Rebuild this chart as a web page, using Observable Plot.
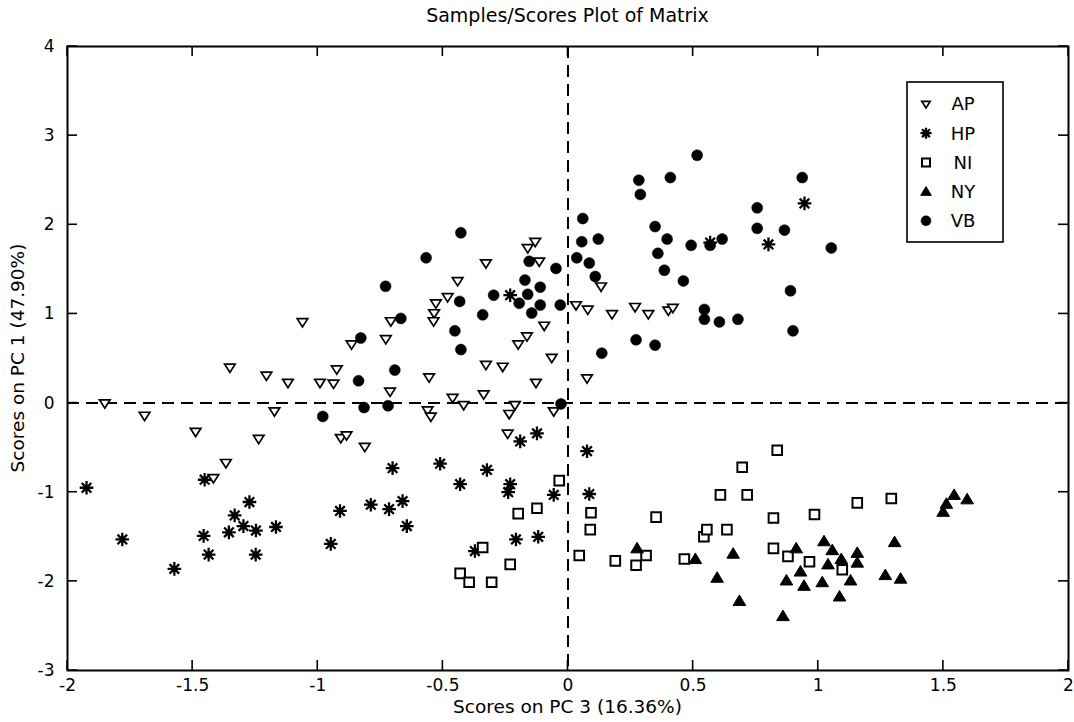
<!DOCTYPE html>
<html><head><meta charset="utf-8">
<script src="https://cdn.jsdelivr.net/npm/d3@7"></script>
<script src="https://cdn.jsdelivr.net/npm/@observablehq/plot@0.6"></script>
<style>
body{margin:0;background:#fff;}
#chart{width:1074px;height:722px;}
svg text{font-family:"DejaVu Sans",sans-serif;}
</style>
</head><body><div id="chart"></div>
<script>
const title = "Samples/Scores Plot of Matrix";
const xLabel = "Scores on PC 3 (16.36%)";
const yLabel = "Scores on PC 1 (47.90%)";
const categories = ["AP","HP","NI","NY","VB"];
const xTicks = [-2,-1.5,-1,-0.5,0,0.5,1,1.5,2];
const yTicks = [-3,-2,-1,0,1,2,3,4];

const AP = [[-1.061,0.91],[-1.351,0.40],[-1.205,0.31],[-1.119,0.23],[-0.991,0.23],[-0.937,0.22],[-0.924,0.38],[-1.851,0.0],[-1.692,-0.14],[-1.173,-0.09],[-1.488,-0.32],[-1.236,-0.40],[-1.367,-0.67],[-1.417,-0.84],[-0.865,0.66],[-0.908,-0.39],[-0.885,-0.36],[-0.812,-0.49],[-0.131,1.81],[-0.161,1.74],[-0.115,1.59],[-0.328,1.57],[-0.441,1.37],[-0.481,1.19],[-0.528,1.12],[-0.535,1.01],[-0.537,0.92],[-0.708,0.92],[-0.728,0.72],[-0.711,0.13],[-0.555,0.29],[-0.328,0.43],[-0.261,0.41],[-0.128,0.23],[-0.065,0.51],[-0.095,0.87],[-0.164,0.75],[-0.199,0.66],[0.032,1.10],[-0.461,0.06],[-0.337,0.10],[-0.417,-0.02],[-0.561,-0.08],[-0.548,-0.15],[-0.235,-0.12],[-0.212,-0.02],[-0.057,-0.09],[-0.241,-0.34],[0.079,1.05],[0.132,1.31],[0.176,1.00],[0.268,1.08],[0.321,1.00],[0.401,1.04],[0.419,1.07],[0.076,0.28]];
const HP = [[-1.924,-0.95],[-1.452,-0.86],[-1.273,-1.11],[-1.332,-1.26],[-1.297,-1.38],[-1.247,-1.43],[-1.355,-1.45],[-1.456,-1.49],[-1.167,-1.39],[-1.781,-1.53],[-1.436,-1.70],[-1.248,-1.70],[-1.573,-1.86],[-0.191,-0.43],[-0.124,-0.34],[-0.701,-0.73],[-0.511,-0.68],[-0.324,-0.75],[-0.431,-0.91],[-0.231,-0.91],[-0.239,-1.00],[-0.057,-1.03],[-0.911,-1.21],[-0.788,-1.14],[-0.715,-1.19],[-0.661,-1.10],[-0.644,-1.38],[-0.948,-1.58],[-0.208,-1.53],[-0.119,-1.50],[-0.372,-1.66],[0.076,-0.54],[0.085,-1.02],[0.801,1.78],[-0.231,1.21],[0.568,1.80],[0.945,2.24]];
const NI = [[-0.035,-0.87],[-0.199,-1.24],[-0.124,-1.18],[-0.341,-1.62],[-0.231,-1.81],[-0.431,-1.91],[-0.395,-2.01],[-0.305,-2.01],[0.092,-1.23],[0.089,-1.42],[0.045,-1.71],[0.189,-1.77],[0.272,-1.82],[0.312,-1.71],[0.352,-1.28],[0.465,-1.75],[0.543,-1.50],[0.555,-1.42],[0.609,-1.03],[0.635,-1.42],[0.696,-0.72],[0.716,-1.03],[0.836,-0.53],[0.821,-1.29],[0.821,-1.63],[0.879,-1.72],[0.965,-1.78],[0.985,-1.25],[1.156,-1.12],[1.096,-1.87],[1.292,-1.07]];
const NY = [[0.276,-1.63],[0.509,-1.75],[0.66,-1.69],[0.596,-1.96],[0.685,-2.22],[0.859,-2.39],[0.912,-1.63],[0.873,-1.99],[0.929,-1.89],[0.943,-2.05],[1.016,-2.01],[1.023,-1.55],[1.056,-1.65],[1.039,-1.81],[1.092,-1.75],[1.085,-2.17],[1.129,-1.99],[1.156,-1.68],[1.156,-1.79],[1.305,-1.56],[1.268,-1.93],[1.329,-1.97],[1.499,-1.22],[1.512,-1.13],[1.543,-1.03],[1.595,-1.08]];
const VB = [[-0.98,-0.15],[-0.828,0.73],[-0.837,0.25],[-0.815,-0.05],[-0.428,1.91],[-0.567,1.63],[-0.729,1.31],[-0.668,0.95],[-0.692,0.37],[-0.433,1.14],[-0.452,0.81],[-0.428,0.60],[-0.297,1.21],[-0.341,0.99],[-0.155,1.59],[-0.048,1.51],[-0.172,1.38],[-0.111,1.30],[-0.161,1.22],[-0.195,1.12],[-0.111,1.10],[-0.145,1.01],[-0.031,1.10],[-0.719,-0.03],[-0.028,-0.01],[0.516,2.78],[0.283,2.50],[0.289,2.34],[0.409,2.53],[0.936,2.53],[0.756,2.19],[0.756,1.96],[0.865,1.94],[1.052,1.74],[0.059,2.07],[0.055,1.81],[0.121,1.84],[0.035,1.63],[0.085,1.57],[0.109,1.42],[0.348,1.98],[0.396,1.84],[0.359,1.68],[0.385,1.49],[0.461,1.37],[0.492,1.77],[0.568,1.77],[0.616,1.84],[0.889,1.26],[0.899,0.81],[0.545,1.05],[0.545,0.94],[0.605,0.91],[0.679,0.94],[0.272,0.71],[0.348,0.65],[0.135,0.56]];

// custom marker shapes
const symTriDown = {draw(c,s){const r=Math.sqrt(s/Math.PI); c.moveTo(-r,-r*0.62); c.lineTo(r,-r*0.62); c.lineTo(0,r*0.95); c.closePath();}};
const symStar = {draw(c,s){const r=Math.sqrt(s/Math.PI); for(let i=0;i<4;i++){const a=i*Math.PI/4; c.moveTo(r*Math.cos(a),r*Math.sin(a)); c.lineTo(-r*Math.cos(a),-r*Math.sin(a));}}};
const symSquare = {draw(c,s){const r=Math.sqrt(s/Math.PI); c.rect(-r,-r,2*r,2*r);}};
const symTriUp = {draw(c,s){const r=Math.sqrt(s/Math.PI); c.moveTo(0,-r); c.lineTo(r*1.05,r*0.75); c.lineTo(-r*1.05,r*0.75); c.closePath();}};
const symCircle = {draw(c,s){const r=Math.sqrt(s/Math.PI); c.moveTo(r,0); c.arc(0,0,r,0,2*Math.PI);}};

const styles = {
  AP:{symbol:symTriDown, r:5.3, fill:"white", stroke:"black", strokeWidth:1.7, lr:4.2},
  HP:{symbol:symStar, r:6.8, fill:"none", stroke:"black", strokeWidth:2.3, lr:5.5},
  NI:{symbol:symSquare, r:4.8, fill:"white", stroke:"black", strokeWidth:2, lr:4},
  NY:{symbol:symTriUp, r:6, fill:"black", stroke:"black", strokeWidth:1, lr:5},
  VB:{symbol:symCircle, r:5.5, fill:"black", stroke:"black", strokeWidth:0.5, lr:5}
};
const series = {AP, HP, NI, NY, VB};

const W = 1074, H = 722;
const plot = Plot.plot({
  width: W, height: H,
  marginLeft: 67, marginRight: 6, marginTop: 46, marginBottom: 52,
  style: {fontFamily: "DejaVu Sans, sans-serif", fontSize: "17px", background: "white", color: "black"},
  x: {domain: [-2, 2]},
  y: {domain: [-3, 4]},
  marks: [
    Plot.ruleX([0], {stroke: "black", strokeWidth: 2, strokeDasharray: "12,7"}),
    Plot.ruleY([0], {stroke: "black", strokeWidth: 2, strokeDasharray: "12,7"}),
    ...categories.map(k => {
      const s = styles[k];
      return Plot.dot(series[k], {x: d => d[0], y: d => d[1], symbol: s.symbol, r: s.r, fill: s.fill, stroke: s.stroke, strokeWidth: s.strokeWidth});
    }),
    Plot.frame({stroke: "black", strokeWidth: 2}),
    Plot.axisX(xTicks, {tickSize: 0, tickPadding: 8, fontSize: 17, label: null, fill: "black", tickFormat: d => String(d)}),
    Plot.axisY(yTicks, {tickSize: 0, tickPadding: 13, fontSize: 17, label: null, fill: "black", tickFormat: d => String(d)})
  ]
});
document.getElementById("chart").appendChild(plot);

const svg = d3.select(plot);
svg.selectAll('g[aria-label="x-axis tick label"], g[aria-label="y-axis tick label"]').attr("font-size", 17);
const sx = plot.scale("x"), sy = plot.scale("y");
const X = d3.scaleLinear().domain(sx.domain).range(sx.range);
const Y = d3.scaleLinear().domain(sy.domain).range(sy.range);
const [x0, x1] = sx.range, [yb, yt] = sy.range;
const tk = svg.append("g").attr("stroke", "black").attr("stroke-width", 1.6);
xTicks.forEach(v => {
  tk.append("line").attr("x1", X(v)).attr("x2", X(v)).attr("y1", yb).attr("y2", yb - 10);
  tk.append("line").attr("x1", X(v)).attr("x2", X(v)).attr("y1", yt).attr("y2", yt + 10);
});
yTicks.forEach(v => {
  tk.append("line").attr("y1", Y(v)).attr("y2", Y(v)).attr("x1", x0).attr("x2", x0 + 10);
  tk.append("line").attr("y1", Y(v)).attr("y2", Y(v)).attr("x1", x1).attr("x2", x1 - 10);
});

svg.append("text").attr("x", (x0 + x1) / 2).attr("y", 22).attr("text-anchor", "middle")
  .attr("font-size", 19).attr("fill", "black").text(title);
svg.append("text").attr("x", (x0 + x1) / 2).attr("y", 713).attr("text-anchor", "middle")
  .attr("font-size", 18.5).attr("fill", "black").text(xLabel);
svg.append("text").attr("transform", `translate(24,${(yb + yt) / 2}) rotate(-90)`).attr("text-anchor", "middle")
  .attr("font-size", 18.5).attr("fill", "black").text(yLabel);

// legend
const lg = svg.append("g");
lg.append("rect").attr("x", 907).attr("y", 82).attr("width", 96).attr("height", 160)
  .attr("fill", "white").attr("stroke", "black").attr("stroke-width", 1.6);
categories.forEach((k, i) => {
  const s = styles[k];
  const yy = 104 + i * 29.2;
  lg.append("path").attr("transform", `translate(926,${yy})`)
    .attr("d", d3.symbol(s.symbol, s.lr * s.lr * Math.PI)())
    .attr("fill", s.fill).attr("stroke", s.stroke).attr("stroke-width", s.strokeWidth);
  lg.append("text").attr("x", 963).attr("y", yy).attr("dy", "0.35em")
    .attr("font-size", 18).attr("fill", "black").text(k);
});
</script></body></html>
